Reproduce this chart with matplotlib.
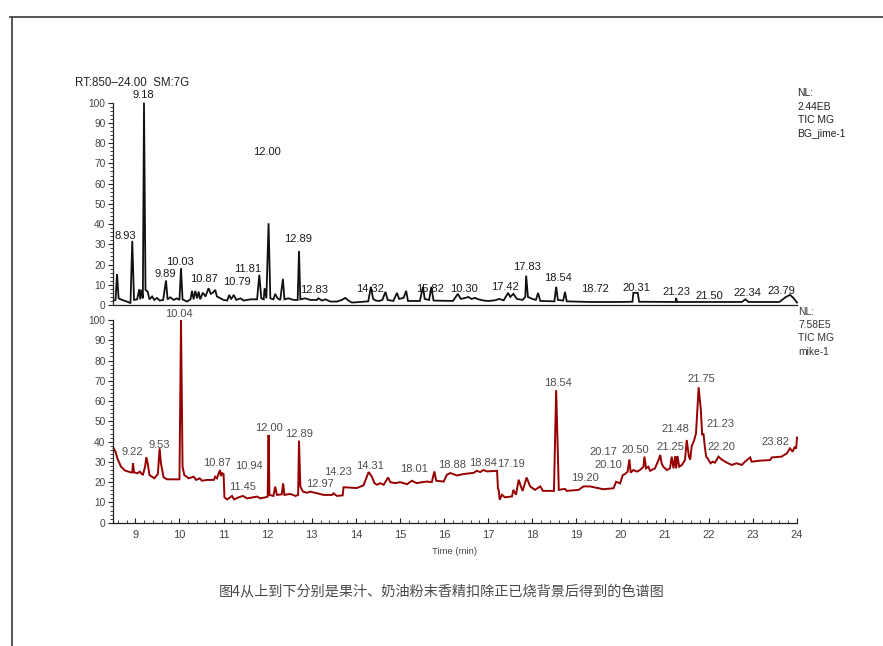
import matplotlib
matplotlib.use("Agg")
import matplotlib.pyplot as plt
from matplotlib.lines import Line2D
from matplotlib.ticker import MultipleLocator

plt.rcParams['font.family'] = ['Liberation Sans', 'Noto Sans CJK SC', 'DejaVu Sans']

# ---------------- data ----------------
# upper trace: juice (relative abundance vs retention time, min)
juice_time = [8.51, 8.55, 8.585, 8.62, 8.70, 8.81, 8.89, 8.93, 8.97, 9.04, 9.09, 9.11,
              9.14, 9.17, 9.196, 9.23, 9.28, 9.32, 9.38, 9.43, 9.49, 9.55, 9.63, 9.695,
              9.73, 9.79, 9.87, 9.94, 10.0, 10.035, 10.07, 10.17, 10.25, 10.285, 10.32,
              10.36, 10.40, 10.435, 10.47, 10.53, 10.59, 10.66, 10.71, 10.76, 10.81,
              10.85, 10.93, 11.0, 11.08, 11.13, 11.17, 11.23, 11.29, 11.38, 11.455,
              11.61, 11.76, 11.81, 11.855, 11.91, 11.93, 11.97, 12.02, 12.06, 12.13,
              12.17, 12.225, 12.285, 12.345, 12.38, 12.47, 12.59, 12.68, 12.71, 12.74,
              12.85, 12.965, 13.115, 13.15, 13.23, 13.31, 13.42, 13.57, 13.68, 13.76,
              13.83, 13.91, 14.1, 14.28, 14.34, 14.39, 14.45, 14.52, 14.6, 14.67, 14.72,
              14.85, 14.93, 14.98, 15.08, 15.14, 15.18, 15.45, 15.52, 15.56, 15.66,
              15.71, 15.76, 16.2, 16.31, 16.38, 16.48, 16.55, 16.62, 16.7, 16.78, 16.9,
              17.0, 17.15, 17.25, 17.35, 17.45, 17.5, 17.57, 17.65, 17.78, 17.84, 17.86,
              17.9, 18.0, 18.08, 18.13, 18.18, 18.5, 18.54, 18.58, 18.7, 18.74, 18.78,
              19.3, 20.0, 20.27, 20.29, 20.39, 20.42, 21.2, 21.25, 21.26, 21.28, 22.75,
              22.83, 22.9, 23.6, 23.75, 23.84, 23.92, 24.0]
juice_abund = [2.2, 2.5, 15.3, 3.3, 2.5, 1.7, 0.9, 31.7, 2.5, 2.8, 7.8, 2.8,
               7.5, 3.3, 100.0, 7.5, 6.6, 2.8, 4.2, 2.5, 3.5, 2.2, 2.5, 12.1,
               2.8, 3.8, 2.5, 3.3, 2.5, 18.2, 2.8, 1.7, 2.8, 7.0, 2.8,
               7.0, 3.3, 6.6, 2.8, 6.1, 4.2, 8.3, 5.5, 6.1, 7.5,
               4.2, 3.3, 2.5, 2.2, 5.0, 2.8, 5.0, 2.5, 3.3, 2.2,
               2.8, 2.8, 14.9, 3.3, 2.8, 8.3, 3.3, 40.4, 3.3, 2.8,
               5.5, 3.3, 2.5, 12.9, 2.8, 3.3, 2.5, 2.5, 26.7, 2.8,
               3.3, 2.5, 2.5, 3.3, 2.2, 2.8, 1.7, 1.7, 2.5, 3.5,
               2.2, 1.2, 1.5, 1.8, 9.0, 3.0, 2.2, 2.0, 2.5, 6.5, 2.5,
               2.0, 6.0, 3.0, 3.5, 7.0, 2.0, 2.0, 9.0, 3.0, 2.5,
               9.0, 2.2, 2.0, 5.5, 3.0, 3.5, 4.0, 3.0, 3.5, 2.8, 2.2,
               2.0, 2.3, 3.0, 2.3, 6.0, 4.0, 5.5, 3.0, 2.5, 4.0, 14.5,
               4.0, 3.0, 2.5, 6.0, 2.0, 1.8, 9.0, 2.5, 2.2, 6.5, 1.8,
               1.5, 1.5, 1.6, 6.0, 6.0, 1.6, 1.5, 1.5, 3.5, 1.5, 1.5,
               2.8, 1.5, 1.5, 4.0, 5.0, 3.5, 1.2]
juice_label_text = ["9.18", "8.93", "12.00", "12.89", "10.03", "9.89", "10.87", "10.79",
                    "11.81", "12.83", "14.32", "15.82", "10.30", "17.42", "17.83", "18.54",
                    "18.72", "20.31", "21.23", "21.50", "22.34", "23.79"]
juice_label_t = [9.19, 8.77, 11.98, 12.68, 10.02, 9.68, 10.56, 11.30,
                 11.54, 13.06, 14.33, 15.68, 16.44, 17.39, 17.88, 18.59,
                 19.42, 20.35, 21.26, 22.01, 22.88, 23.65]
juice_label_y = [103.8, 34.3, 75.8, 32.5, 21.4, 15.3, 12.7, 11.4,
                 17.8, 7.4, 7.8, 7.8, 7.8, 8.7, 18.9, 13.5,
                 7.9, 8.3, 6.6, 4.6, 5.8, 7.1]

# lower trace: cream powder flavour
cream_time = [8.509, 8.55, 8.60, 8.675, 8.77, 8.90, 8.93, 8.947, 8.97, 9.05, 9.10, 9.17,
              9.22, 9.25, 9.28, 9.32, 9.43, 9.51, 9.55, 9.58, 9.64, 9.72, 10.0, 10.035,
              10.07, 10.11, 10.21, 10.28, 10.32, 10.38, 10.46, 10.51, 10.62, 10.78, 10.81,
              10.85, 10.89, 10.92, 10.94, 10.97, 11.0, 11.02, 11.08, 11.15, 11.19, 11.24,
              11.34, 11.44, 11.53, 11.64, 11.76, 11.83, 11.95, 12.0, 12.02, 12.04, 12.13,
              12.17, 12.21, 12.32, 12.35, 12.38, 12.51, 12.63, 12.69, 12.71, 12.74, 12.8,
              12.89, 12.97, 13.12, 13.27, 13.46, 13.49, 13.57, 13.7, 13.72, 14.02, 14.17,
              14.29, 14.36, 14.42, 14.48, 14.55, 14.63, 14.73, 14.78, 14.89, 15.0, 15.16,
              15.27, 15.38, 15.5, 15.61, 15.72, 15.78, 15.82, 15.99, 16.06, 16.14, 16.29,
              16.44, 16.67, 16.74, 16.82, 16.89, 16.97, 17.2, 17.22, 17.24, 17.26, 17.31,
              17.38, 17.54, 17.57, 17.63, 17.69, 17.74, 17.78, 17.87, 17.95, 18.06, 18.18,
              18.24, 18.49, 18.54, 18.6, 18.74, 18.78, 19.05, 19.16, 19.31, 19.61, 19.84,
              19.9, 19.99, 20.05, 20.1, 20.16, 20.2, 20.23, 20.29, 20.37, 20.44, 20.52,
              20.54, 20.58, 20.63, 20.67, 20.78, 20.86, 20.9, 20.93, 20.97, 21.05, 21.12,
              21.16, 21.2, 21.24, 21.26, 21.29, 21.33, 21.39, 21.46, 21.5, 21.55, 21.58,
              21.61, 21.67, 21.71, 21.77, 21.82, 21.85, 21.88, 21.91, 21.94, 21.99, 22.04,
              22.09, 22.14, 22.22, 22.29, 22.41, 22.52, 22.63, 22.75, 22.82, 22.94, 22.97,
              23.16, 23.39, 23.43, 23.65, 23.77, 23.84, 23.9, 23.95, 23.98, 24.0]
cream_abund = [36.7, 35.0, 31.3, 27.6, 25.7, 24.8, 24.8, 29.3, 24.8, 24.4, 25.2, 23.5,
               27.6, 32.3, 29.3, 23.5, 21.9, 24.0, 36.7, 29.3, 22.4, 21.4, 21.4, 100.0,
               27.6, 23.5, 21.9, 22.4, 22.7, 21.1, 21.9, 20.7, 21.1, 21.1, 22.7,
               21.9, 24.4, 26.0, 23.0, 24.4, 24.0, 12.5, 11.5, 12.5, 13.2, 11.5,
               12.5, 13.2, 12.0, 12.4, 12.9, 12.0, 12.5, 12.9, 43.3, 13.7, 13.2,
               17.8, 13.7, 14.0, 19.4, 13.7, 14.2, 13.2, 13.7, 40.5, 17.8, 15.3,
               14.8, 15.3, 14.5, 13.7, 13.7, 14.5, 13.2, 13.5, 17.5, 17.1, 18.4,
               25.0, 22.8, 19.5, 18.7, 19.5, 18.7, 22.3, 20.0, 19.5, 20.0, 19.0,
               20.7, 19.5, 20.0, 20.3, 20.0, 25.3, 20.7, 20.3, 23.6, 24.5, 23.3,
               24.0, 24.6, 25.6, 25.0, 26.0, 25.3, 25.6, 17.1, 15.7, 11.3, 13.8,
               12.5, 13.0, 16.2, 13.8, 21.2, 17.9, 15.7, 22.3, 17.9, 16.2, 17.9,
               15.7, 15.7, 65.4, 16.2, 16.7, 15.7, 16.2, 17.9, 17.9, 16.5, 17.0,
               20.2, 19.4, 23.5, 24.0, 25.2, 31.2, 24.7, 26.0, 25.2, 26.0, 27.6,
               32.6, 26.8, 27.6, 25.6, 26.8, 30.9, 33.4, 29.3, 27.6, 26.0, 26.8,
               32.6, 26.8, 32.9, 26.8, 32.9, 27.6, 28.5, 30.9, 40.8, 32.6, 31.2,
               37.5, 40.8, 44.0, 66.8, 55.6, 43.3, 44.0, 37.5, 32.6, 31.2, 29.3,
               30.1, 29.6, 32.6, 31.2, 29.6, 28.5, 29.3, 28.5, 30.1, 32.2, 30.1,
               30.6, 30.9, 32.2, 32.6, 34.2, 36.7, 35.0, 37.5, 36.5, 42.0]
cream_label_text = ["10.04", "9.22", "9.53", "10.87", "10.94", "11.45", "12.00", "12.89",
                    "12.97", "14.23", "14.31", "18.01", "18.88", "18.84", "17.19", "18.54",
                    "19.20", "20.17", "20.10", "20.50", "21.25", "21.48", "21.75", "21.23",
                    "22.20", "23.82"]
cream_label_t = [9.98, 8.93, 9.55, 10.85, 11.58, 11.44, 12.02, 12.71,
                 13.19, 13.59, 14.33, 15.32, 16.18, 16.89, 17.52, 18.57,
                 19.20, 19.60, 19.73, 20.33, 21.12, 21.24, 21.82, 22.26,
                 22.29, 23.50]
cream_label_y = [103.0, 35.0, 38.3, 29.6, 28.1, 17.8, 46.6, 43.8,
                 19.1, 25.2, 28.0, 26.3, 28.5, 29.6, 29.0, 69.0,
                 22.0, 35.0, 28.5, 35.9, 37.5, 46.1, 70.7, 48.7,
                 37.5, 40.0]

x_ticks = list(range(9, 25))
y_ticks = list(range(0, 101, 10))

# ---------------- figure ----------------
W, H = 883, 646
fig = plt.figure(figsize=(W / 100, H / 100), dpi=100)


def fx(px):
    return px / W


def fy(py):
    return 1 - py / H


x_left, x_right = 113.3, 797.0
ax_top = fig.add_axes([fx(x_left), fy(305.0), (x_right - x_left) / W, (305.0 - 102.7) / H])
ax_bot = fig.add_axes([fx(x_left), fy(522.7), (x_right - x_left) / W, (522.7 - 320.0) / H])

tick_grey = '#444444'
for ax in (ax_top, ax_bot):
    ax.set_xlim(8.5, 24.0)
    ax.set_ylim(0, 100)
    ax.patch.set_alpha(0)
    for s in ('top', 'right'):
        ax.spines[s].set_visible(False)
    for s in ('left', 'bottom'):
        ax.spines[s].set_color('#222222')
        ax.spines[s].set_linewidth(0.9)
    ax.set_yticks(y_ticks)
    ax.yaxis.set_minor_locator(MultipleLocator(2))
    ax.tick_params(axis='y', which='major', direction='out', length=3.6, width=0.8,
                   pad=2, labelsize=7.3, labelcolor=tick_grey, color='#222222')
    ax.tick_params(axis='y', which='minor', direction='out', length=2.0, width=0.6,
                   color='#222222')

ax_top.tick_params(axis='x', which='both', bottom=False, labelbottom=False)
ax_bot.set_xticks(x_ticks)
ax_bot.xaxis.set_minor_locator(MultipleLocator(0.2))
ax_bot.tick_params(axis='x', which='major', direction='in', length=3.8, width=0.8,
                   pad=5.5, labelsize=8, labelcolor=tick_grey, color='#222222')
ax_bot.tick_params(axis='x', which='minor', direction='in', length=2.2, width=0.6,
                   color='#222222')

ax_top.plot(juice_time, juice_abund, color='#111111', lw=1.3, clip_on=False,
            solid_joinstyle='miter')
ax_bot.plot(cream_time, cream_abund, color='#960000', lw=1.4, clip_on=False,
            solid_joinstyle='miter')

for txt, t, y in zip(juice_label_text, juice_label_t, juice_label_y):
    ax_top.text(t, y, txt, ha='center', va='center', fontsize=8, color='#1a1a1a',
                clip_on=False)
for txt, t, y in zip(cream_label_text, cream_label_t, cream_label_y):
    ax_bot.text(t, y, txt, ha='center', va='center', fontsize=8, color='#4d4d4d',
                clip_on=False)

# header and trace info
fig.text(fx(75), fy(83), "RT:850\u201324.00  SM:7G", fontsize=8.3, color='#222222',
         ha='left', va='center')
fig.text(fx(797.5), fy(88), "NL:\n2.44EB\nTIC MG\nBG_jime-1", fontsize=7.4,
         color='#222222', ha='left', va='top', linespacing=1.45)
fig.text(fx(798.5), fy(307), "NL:\n7.58E5\nTIC MG\nmike-1", fontsize=7.4,
         color='#333333', ha='left', va='top', linespacing=1.4)
fig.text(fx(455), fy(551), "Time (min)", fontsize=6.8, color='#444444',
         ha='center', va='center')

# caption
fig.text(fx(441.5), fy(591.5), "图4从上到下分别是果汁、奶油粉末香精扣除正已烧背景后得到的色谱图",
         fontsize=10.2, color='#4a4a4a', ha='center', va='center',
         family=['Noto Sans CJK SC', 'DejaVu Sans'])

# page frame
fig.add_artist(Line2D([fx(10), 1.0], [fy(17), fy(17)], color='#4a4a4a', lw=1.3))
fig.add_artist(Line2D([fx(11.5), fx(11.5)], [fy(17), 0.0], color='#4a4a4a', lw=1.3))

fig.savefig("out.png", dpi=100)
